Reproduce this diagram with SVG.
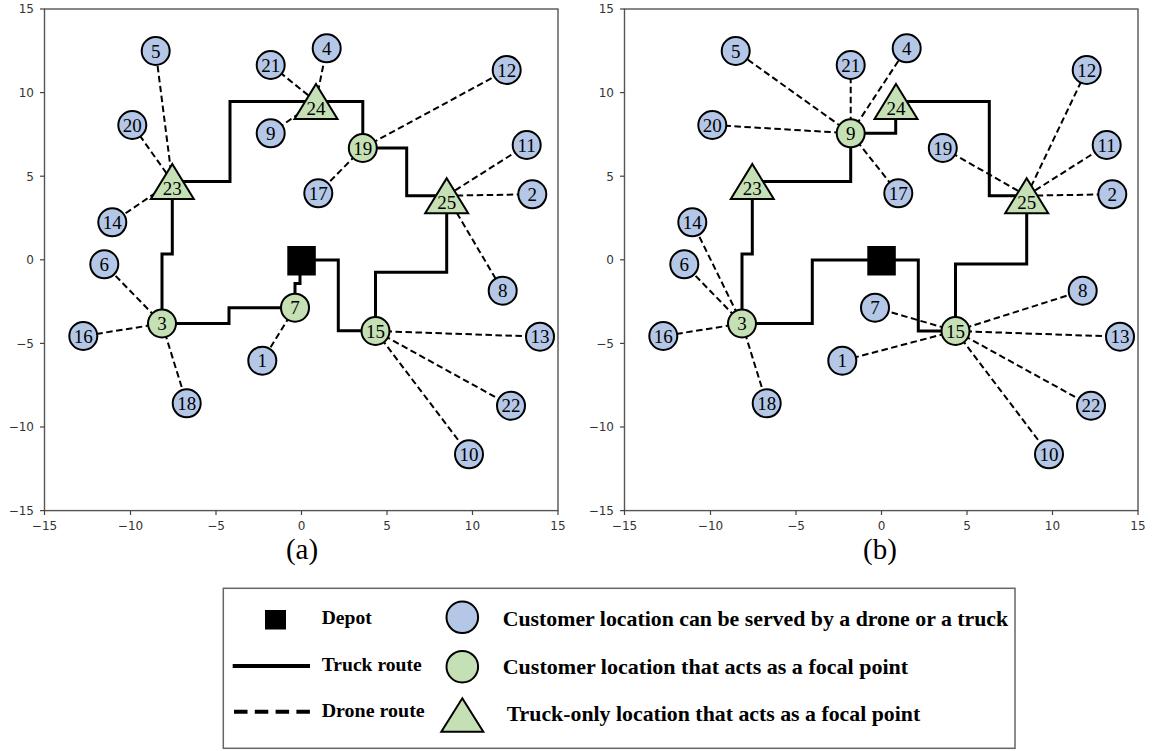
<svg xmlns="http://www.w3.org/2000/svg" width="1152" height="751" viewBox="0 0 1152 751">
  <defs>
    <style>
      .cust { fill:#b4c7e7; stroke:#000; stroke-width:2; }
      .focal { fill:#c5e0b4; stroke:#000; stroke-width:2; }
      .tri { fill:#c5e0b4; stroke:#000; stroke-width:2; stroke-linejoin:miter; }
      .lbl { font-family:"Liberation Serif", "Times New Roman", serif; font-size:19px; text-anchor:middle; fill:#000; }
      .truck { fill:none; stroke:#000; stroke-width:3; stroke-linejoin:miter; }
      .drone { fill:none; stroke:#000; stroke-width:2; stroke-dasharray:6.5 3.5; }
      .frame { fill:none; stroke:#555; stroke-width:1.4; }
      .tk { stroke:#444; stroke-width:1.2; }
      .ty { font-family:"DejaVu Sans", sans-serif; font-size:12px; fill:#333; text-anchor:end; }
      .tx { font-family:"DejaVu Sans", sans-serif; font-size:12px; fill:#333; text-anchor:middle; }
      .cap { font-family:"Liberation Serif", "Times New Roman", serif; font-size:29px; text-anchor:middle; fill:#000; }
      .leg { font-family:"Liberation Serif", "Times New Roman", serif; font-weight:bold; fill:#000; }
    </style>
  </defs>
  <rect x="0" y="0" width="1152" height="751" fill="#fff"/>

  <!-- ===================== Panel (a) ===================== -->
  <g id="axes-a">
    <rect class="frame" x="44.5" y="9" width="513.5" height="501.6"/>
    <g class="tk">
      <line x1="40" y1="9" x2="44.5" y2="9"/>
      <line x1="40" y1="92.6" x2="44.5" y2="92.6"/>
      <line x1="40" y1="176.2" x2="44.5" y2="176.2"/>
      <line x1="40" y1="259.8" x2="44.5" y2="259.8"/>
      <line x1="40" y1="343.4" x2="44.5" y2="343.4"/>
      <line x1="40" y1="427" x2="44.5" y2="427"/>
      <line x1="40" y1="510.6" x2="44.5" y2="510.6"/>
      <line x1="44.5" y1="510.6" x2="44.5" y2="515"/>
      <line x1="130.5" y1="510.6" x2="130.5" y2="515"/>
      <line x1="216" y1="510.6" x2="216" y2="515"/>
      <line x1="301.5" y1="510.6" x2="301.5" y2="515"/>
      <line x1="387" y1="510.6" x2="387" y2="515"/>
      <line x1="472.5" y1="510.6" x2="472.5" y2="515"/>
      <line x1="558" y1="510.6" x2="558" y2="515"/>
    </g>
    <text class="ty" x="34" y="13.3">15</text>
    <text class="ty" x="34" y="96.9">10</text>
    <text class="ty" x="34" y="180.5">5</text>
    <text class="ty" x="34" y="264.1">0</text>
    <text class="ty" x="34" y="347.7">−5</text>
    <text class="ty" x="34" y="431.3">−10</text>
    <text class="ty" x="34" y="514.9">−15</text>
    <text class="tx" x="44.5" y="529.5">−15</text>
    <text class="tx" x="130.5" y="529.5">−10</text>
    <text class="tx" x="216" y="529.5">−5</text>
    <text class="tx" x="301.5" y="529.5">0</text>
    <text class="tx" x="387" y="529.5">5</text>
    <text class="tx" x="472.5" y="529.5">10</text>
    <text class="tx" x="558" y="529.5">15</text>
    <text class="cap" x="302" y="559">(a)</text>
  </g>

  <g id="connectors-a">
    <!-- truck route -->
    <polyline class="truck" points="301.5,260 338.3,260 338.3,330.7 375.5,330.7 375.5,272.3 446.7,272.3 446.7,195.7 406.7,195.7 406.7,148 362.8,148 362.8,101.5 230,101.5 230,181.5 172.3,181.5 172.3,254 162,254 162,323.5 229,323.5 229,307.7 295,307.7 295,283.5 300,283.5 300,260"/>
    <!-- drone routes -->
    <line class="drone" x1="172.3" y1="181.5" x2="155.7" y2="51"/>
    <line class="drone" x1="172.3" y1="181.5" x2="132.3" y2="125"/>
    <line class="drone" x1="172.3" y1="181.5" x2="112.3" y2="222.3"/>
    <line class="drone" x1="316" y1="101.5" x2="270.7" y2="65"/>
    <line class="drone" x1="316" y1="101.5" x2="326.7" y2="48.3"/>
    <line class="drone" x1="316" y1="101.5" x2="270.7" y2="133.3"/>
    <line class="drone" x1="362.8" y1="148" x2="506.7" y2="70"/>
    <line class="drone" x1="362.8" y1="148" x2="318.3" y2="193.3"/>
    <line class="drone" x1="446.7" y1="195.7" x2="526.7" y2="145"/>
    <line class="drone" x1="446.7" y1="195.7" x2="532.3" y2="194.3"/>
    <line class="drone" x1="446.7" y1="195.7" x2="502.7" y2="290.7"/>
    <line class="drone" x1="162" y1="323.5" x2="104.3" y2="264.3"/>
    <line class="drone" x1="162" y1="323.5" x2="83.3" y2="336"/>
    <line class="drone" x1="162" y1="323.5" x2="186.7" y2="403.3"/>
    <line class="drone" x1="295" y1="307.7" x2="262.3" y2="360.7"/>
    <line class="drone" x1="375.5" y1="331" x2="540" y2="336.7"/>
    <line class="drone" x1="375.5" y1="331" x2="511" y2="405.7"/>
    <line class="drone" x1="375.5" y1="331" x2="469" y2="454.3"/>
  </g>

  <g id="a-depot"><rect x="287.3" y="246" width="28.5" height="29.5" fill="#000"/></g>
  <g id="a-n1"><circle class="cust" cx="262.3" cy="360.7" r="14"/><text class="lbl" x="262.3" y="367.2">1</text></g>
  <g id="a-n2"><circle class="cust" cx="532.3" cy="194.3" r="14"/><text class="lbl" x="532.3" y="200.8">2</text></g>
  <g id="a-n3"><circle class="focal" cx="162" cy="323.5" r="14"/><text class="lbl" x="162" y="330">3</text></g>
  <g id="a-n4"><circle class="cust" cx="326.7" cy="48.3" r="14"/><text class="lbl" x="326.7" y="54.8">4</text></g>
  <g id="a-n5"><circle class="cust" cx="155.7" cy="51" r="14"/><text class="lbl" x="155.7" y="57.5">5</text></g>
  <g id="a-n6"><circle class="cust" cx="104.3" cy="264.3" r="14"/><text class="lbl" x="104.3" y="270.8">6</text></g>
  <g id="a-n7"><circle class="focal" cx="295" cy="307.7" r="14"/><text class="lbl" x="295" y="314.2">7</text></g>
  <g id="a-n8"><circle class="cust" cx="502.7" cy="290.7" r="14"/><text class="lbl" x="502.7" y="297.2">8</text></g>
  <g id="a-n9"><circle class="cust" cx="270.7" cy="133.3" r="14"/><text class="lbl" x="270.7" y="139.8">9</text></g>
  <g id="a-n10"><circle class="cust" cx="469" cy="454.3" r="14"/><text class="lbl" x="469" y="460.8">10</text></g>
  <g id="a-n11"><circle class="cust" cx="526.7" cy="145" r="14"/><text class="lbl" x="526.7" y="151.5">11</text></g>
  <g id="a-n12"><circle class="cust" cx="506.7" cy="70" r="14"/><text class="lbl" x="506.7" y="76.5">12</text></g>
  <g id="a-n13"><circle class="cust" cx="540" cy="336.7" r="14"/><text class="lbl" x="540" y="343.2">13</text></g>
  <g id="a-n14"><circle class="cust" cx="112.3" cy="222.3" r="14"/><text class="lbl" x="112.3" y="228.8">14</text></g>
  <g id="a-n15"><circle class="focal" cx="375.5" cy="331" r="14"/><text class="lbl" x="375.5" y="337.5">15</text></g>
  <g id="a-n16"><circle class="cust" cx="83.3" cy="336" r="14"/><text class="lbl" x="83.3" y="342.5">16</text></g>
  <g id="a-n17"><circle class="cust" cx="318.3" cy="193.3" r="14"/><text class="lbl" x="318.3" y="199.8">17</text></g>
  <g id="a-n18"><circle class="cust" cx="186.7" cy="403.3" r="14"/><text class="lbl" x="186.7" y="409.8">18</text></g>
  <g id="a-n19"><circle class="focal" cx="362.8" cy="148" r="14"/><text class="lbl" x="362.8" y="154.5">19</text></g>
  <g id="a-n20"><circle class="cust" cx="132.3" cy="125" r="14"/><text class="lbl" x="132.3" y="131.5">20</text></g>
  <g id="a-n21"><circle class="cust" cx="270.7" cy="65" r="14"/><text class="lbl" x="270.7" y="71.5">21</text></g>
  <g id="a-n22"><circle class="cust" cx="511" cy="405.7" r="14"/><text class="lbl" x="511" y="412.2">22</text></g>
  <g id="a-n23"><path class="tri" d="M172.3,164 L193.8,199 L150.8,199 Z"/><text class="lbl" x="172.3" y="194.5">23</text></g>
  <g id="a-n24"><path class="tri" d="M316,84 L337.5,119 L294.5,119 Z"/><text class="lbl" x="316" y="114.5">24</text></g>
  <g id="a-n25"><path class="tri" d="M446.7,178.2 L468.2,213.2 L425.2,213.2 Z"/><text class="lbl" x="446.7" y="208.7">25</text></g>

  <!-- ===================== Panel (b) ===================== -->
  <g id="axes-b">
    <rect class="frame" x="624.5" y="9" width="513.5" height="501.6"/>
    <g class="tk">
      <line x1="620" y1="9" x2="624.5" y2="9"/>
      <line x1="620" y1="92.6" x2="624.5" y2="92.6"/>
      <line x1="620" y1="176.2" x2="624.5" y2="176.2"/>
      <line x1="620" y1="259.8" x2="624.5" y2="259.8"/>
      <line x1="620" y1="343.4" x2="624.5" y2="343.4"/>
      <line x1="620" y1="427" x2="624.5" y2="427"/>
      <line x1="620" y1="510.6" x2="624.5" y2="510.6"/>
      <line x1="624.5" y1="510.6" x2="624.5" y2="515"/>
      <line x1="710.5" y1="510.6" x2="710.5" y2="515"/>
      <line x1="796" y1="510.6" x2="796" y2="515"/>
      <line x1="881.5" y1="510.6" x2="881.5" y2="515"/>
      <line x1="967" y1="510.6" x2="967" y2="515"/>
      <line x1="1052.5" y1="510.6" x2="1052.5" y2="515"/>
      <line x1="1138" y1="510.6" x2="1138" y2="515"/>
    </g>
    <text class="ty" x="614" y="13.3">15</text>
    <text class="ty" x="614" y="96.9">10</text>
    <text class="ty" x="614" y="180.5">5</text>
    <text class="ty" x="614" y="264.1">0</text>
    <text class="ty" x="614" y="347.7">−5</text>
    <text class="ty" x="614" y="431.3">−10</text>
    <text class="ty" x="614" y="514.9">−15</text>
    <text class="tx" x="624.5" y="529.5">−15</text>
    <text class="tx" x="710.5" y="529.5">−10</text>
    <text class="tx" x="796" y="529.5">−5</text>
    <text class="tx" x="881.5" y="529.5">0</text>
    <text class="tx" x="967" y="529.5">5</text>
    <text class="tx" x="1052.5" y="529.5">10</text>
    <text class="tx" x="1138" y="529.5">15</text>
    <text class="cap" x="880" y="559">(b)</text>
  </g>

  <g id="connectors-b">
    <!-- truck route -->
    <polyline class="truck" points="881.5,260 812.3,260 812.3,323.5 742,323.5 742,254 752.3,254 752.3,181.5 850.7,181.5 850.7,133.3 895.7,133.3 895.7,101.5 989.3,101.5 989.3,195.7 1026.7,195.7 1026.7,264 955.5,264 955.5,331 918.3,331 918.3,260 881.5,260"/>
    <!-- drone routes -->
    <line class="drone" x1="850.7" y1="133.3" x2="735.7" y2="51"/>
    <line class="drone" x1="850.7" y1="133.3" x2="712.3" y2="125"/>
    <line class="drone" x1="850.7" y1="133.3" x2="850.7" y2="65"/>
    <line class="drone" x1="850.7" y1="133.3" x2="906.7" y2="48.3"/>
    <line class="drone" x1="850.7" y1="133.3" x2="898.3" y2="193.3"/>
    <line class="drone" x1="1026.7" y1="195.7" x2="942.8" y2="148"/>
    <line class="drone" x1="1026.7" y1="195.7" x2="1086.7" y2="70"/>
    <line class="drone" x1="1026.7" y1="195.7" x2="1106.7" y2="145"/>
    <line class="drone" x1="1026.7" y1="195.7" x2="1112.3" y2="194.3"/>
    <line class="drone" x1="742" y1="323.5" x2="684.3" y2="264.3"/>
    <line class="drone" x1="742" y1="323.5" x2="692.3" y2="222.3"/>
    <line class="drone" x1="742" y1="323.5" x2="663.3" y2="336"/>
    <line class="drone" x1="742" y1="323.5" x2="766.7" y2="403.3"/>
    <line class="drone" x1="955.5" y1="331" x2="875" y2="307.7"/>
    <line class="drone" x1="955.5" y1="331" x2="842.3" y2="360.7"/>
    <line class="drone" x1="955.5" y1="331" x2="1082.7" y2="290.7"/>
    <line class="drone" x1="955.5" y1="331" x2="1120" y2="336.7"/>
    <line class="drone" x1="955.5" y1="331" x2="1091" y2="405.7"/>
    <line class="drone" x1="955.5" y1="331" x2="1049" y2="454.3"/>
  </g>

  <g id="b-depot"><rect x="867.3" y="246" width="28.5" height="29.5" fill="#000"/></g>
  <g id="b-n1"><circle class="cust" cx="842.3" cy="360.7" r="14"/><text class="lbl" x="842.3" y="367.2">1</text></g>
  <g id="b-n2"><circle class="cust" cx="1112.3" cy="194.3" r="14"/><text class="lbl" x="1112.3" y="200.8">2</text></g>
  <g id="b-n3"><circle class="focal" cx="742" cy="323.5" r="14"/><text class="lbl" x="742" y="330">3</text></g>
  <g id="b-n4"><circle class="cust" cx="906.7" cy="48.3" r="14"/><text class="lbl" x="906.7" y="54.8">4</text></g>
  <g id="b-n5"><circle class="cust" cx="735.7" cy="51" r="14"/><text class="lbl" x="735.7" y="57.5">5</text></g>
  <g id="b-n6"><circle class="cust" cx="684.3" cy="264.3" r="14"/><text class="lbl" x="684.3" y="270.8">6</text></g>
  <g id="b-n7"><circle class="cust" cx="875" cy="307.7" r="14"/><text class="lbl" x="875" y="314.2">7</text></g>
  <g id="b-n8"><circle class="cust" cx="1082.7" cy="290.7" r="14"/><text class="lbl" x="1082.7" y="297.2">8</text></g>
  <g id="b-n9"><circle class="focal" cx="850.7" cy="133.3" r="14"/><text class="lbl" x="850.7" y="139.8">9</text></g>
  <g id="b-n10"><circle class="cust" cx="1049" cy="454.3" r="14"/><text class="lbl" x="1049" y="460.8">10</text></g>
  <g id="b-n11"><circle class="cust" cx="1106.7" cy="145" r="14"/><text class="lbl" x="1106.7" y="151.5">11</text></g>
  <g id="b-n12"><circle class="cust" cx="1086.7" cy="70" r="14"/><text class="lbl" x="1086.7" y="76.5">12</text></g>
  <g id="b-n13"><circle class="cust" cx="1120" cy="336.7" r="14"/><text class="lbl" x="1120" y="343.2">13</text></g>
  <g id="b-n14"><circle class="cust" cx="692.3" cy="222.3" r="14"/><text class="lbl" x="692.3" y="228.8">14</text></g>
  <g id="b-n15"><circle class="focal" cx="955.5" cy="331" r="14"/><text class="lbl" x="955.5" y="337.5">15</text></g>
  <g id="b-n16"><circle class="cust" cx="663.3" cy="336" r="14"/><text class="lbl" x="663.3" y="342.5">16</text></g>
  <g id="b-n17"><circle class="cust" cx="898.3" cy="193.3" r="14"/><text class="lbl" x="898.3" y="199.8">17</text></g>
  <g id="b-n18"><circle class="cust" cx="766.7" cy="403.3" r="14"/><text class="lbl" x="766.7" y="409.8">18</text></g>
  <g id="b-n19"><circle class="cust" cx="942.8" cy="148" r="14"/><text class="lbl" x="942.8" y="154.5">19</text></g>
  <g id="b-n20"><circle class="cust" cx="712.3" cy="125" r="14"/><text class="lbl" x="712.3" y="131.5">20</text></g>
  <g id="b-n21"><circle class="cust" cx="850.7" cy="65" r="14"/><text class="lbl" x="850.7" y="71.5">21</text></g>
  <g id="b-n22"><circle class="cust" cx="1091" cy="405.7" r="14"/><text class="lbl" x="1091" y="412.2">22</text></g>
  <g id="b-n23"><path class="tri" d="M752.3,164 L773.8,199 L730.8,199 Z"/><text class="lbl" x="752.3" y="194.5">23</text></g>
  <g id="b-n24"><path class="tri" d="M896,84 L917.5,119 L874.5,119 Z"/><text class="lbl" x="896" y="114.5">24</text></g>
  <g id="b-n25"><path class="tri" d="M1026.7,178.2 L1048.2,213.2 L1005.2,213.2 Z"/><text class="lbl" x="1026.7" y="208.7">25</text></g>

  <!-- ===================== Legend ===================== -->
  <g id="legend">
    <rect x="223.3" y="588.3" width="791.7" height="160" fill="#fff" stroke="#666" stroke-width="1.5"/>
    <rect x="265" y="610" width="21" height="19.5" fill="#000"/>
    <text class="leg" x="321.7" y="624" font-size="18.5px" textLength="50" lengthAdjust="spacingAndGlyphs">Depot</text>
    <line x1="232.7" y1="666" x2="310" y2="666" stroke="#000" stroke-width="4"/>
    <text class="leg" x="321.7" y="671" font-size="18.5px" textLength="100" lengthAdjust="spacingAndGlyphs">Truck route</text>
    <line x1="234" y1="711.7" x2="310" y2="711.7" stroke="#000" stroke-width="4" stroke-dasharray="13.5 7.3"/>
    <text class="leg" x="321.7" y="717" font-size="18.5px" textLength="103" lengthAdjust="spacingAndGlyphs">Drone route</text>
    <circle class="cust" cx="462.3" cy="617.3" r="15.8"/>
    <circle class="focal" cx="462.3" cy="666.7" r="15.8"/>
    <path class="tri" d="M462.3,698.3 L483.3,731.7 L441.3,731.7 Z"/>
    <text class="leg" x="502.7" y="626" font-size="21px" textLength="505.5" lengthAdjust="spacingAndGlyphs">Customer location can be served by a drone or a truck</text>
    <text class="leg" x="502.7" y="673.5" font-size="21px" textLength="405.5" lengthAdjust="spacingAndGlyphs">Customer location that acts as a focal point</text>
    <text class="leg" x="506.7" y="721" font-size="21px" textLength="413.5" lengthAdjust="spacingAndGlyphs">Truck-only location that acts as a focal point</text>
  </g>
</svg>
